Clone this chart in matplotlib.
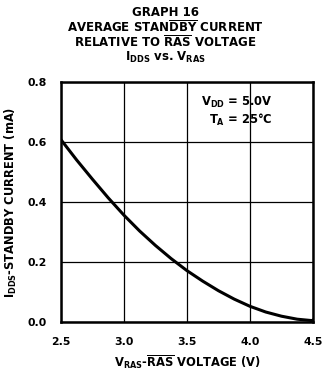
import numpy as np
import matplotlib
matplotlib.use('Agg')
import matplotlib.pyplot as plt

plt.rcParams['font.family'] = 'DejaVu Sans'
plt.rcParams['font.weight'] = 'bold'
plt.rcParams['mathtext.fontset'] = 'custom'
plt.rcParams['mathtext.rm'] = 'DejaVu Sans:bold'
plt.rcParams['mathtext.it'] = 'DejaVu Sans:bold'
plt.rcParams['mathtext.bf'] = 'DejaVu Sans:bold'

# curve
v_ras = [2.5, 2.625, 2.75, 2.875, 3.0, 3.125, 3.25, 3.375, 3.5,
         3.625, 3.75, 3.875, 4.0, 4.125, 4.25, 4.375, 4.5]
i_dds = [0.608, 0.540, 0.476, 0.414, 0.356, 0.303, 0.255, 0.211, 0.171,
         0.136, 0.104, 0.076, 0.052, 0.033, 0.019, 0.009, 0.004]

x_ticks = [2.5, 3.0, 3.5, 4.0, 4.5]
y_ticks = [0.0, 0.2, 0.4, 0.6, 0.8]

fig = plt.figure(figsize=(3.24, 3.73), dpi=100)
ax = fig.add_axes([0.188, 0.137, 0.778, 0.643])

ax.plot(v_ras, i_dds, color='black', lw=2.2, solid_capstyle='round',
        solid_joinstyle='round', marker='o', markersize=3.5, markevery=[-1])
ax.set_xlim(2.5, 4.5)
ax.set_ylim(0, 0.8)
ax.set_xticks(x_ticks)
ax.set_yticks(y_ticks)
ax.set_xticklabels([f'{v:.1f}' for v in x_ticks], fontsize=7.8, fontweight='bold')
ax.set_yticklabels([f'{v:.1f}' for v in y_ticks], fontsize=7.8, fontweight='bold')
ax.tick_params(axis='x', length=0, pad=11)
ax.tick_params(axis='y', length=0, pad=10)
ax.grid(True, color='black', lw=0.9)
for s in ax.spines.values():
    s.set_linewidth(1.8)

ax.set_xlabel(r'V$_{\mathrm{RAS}}$-$\overline{\mathrm{RAS}}$ VOLTAGE (V)', fontsize=8.3, fontweight='bold', labelpad=4)
ax.set_ylabel(r'I$_{\mathrm{DDS}}$-STANDBY CURRENT (mA)', fontsize=8.3, fontweight='bold', labelpad=6)

ax.text(0.84, 0.915, r'V$_{\mathrm{DD}}$ = 5.0V', transform=ax.transAxes, ha='right', va='center', fontsize=8.3)
ax.text(0.84, 0.84, r'T$_{\mathrm{A}}$ = 25°C', transform=ax.transAxes, ha='right', va='center', fontsize=8.3)

fig.text(0.51, 0.967, 'GRAPH 16', ha='center', va='center', fontsize=8.5, fontweight='bold')
fig.text(0.51, 0.928, r'AVERAGE STAN$\overline{\mathrm{DBY}}$ CURRENT', ha='center', va='center', fontsize=8.5, fontweight='bold')
fig.text(0.51, 0.888, r'RELATIVE TO $\overline{\mathrm{RAS}}$ VOLTAGE', ha='center', va='center', fontsize=8.5, fontweight='bold')
fig.text(0.51, 0.847, r'I$_{\mathrm{DDS}}$ vs. V$_{\mathrm{RAS}}$', ha='center', va='center', fontsize=8.5, fontweight='bold')

fig.savefig('out.png', dpi=100, facecolor='white')
